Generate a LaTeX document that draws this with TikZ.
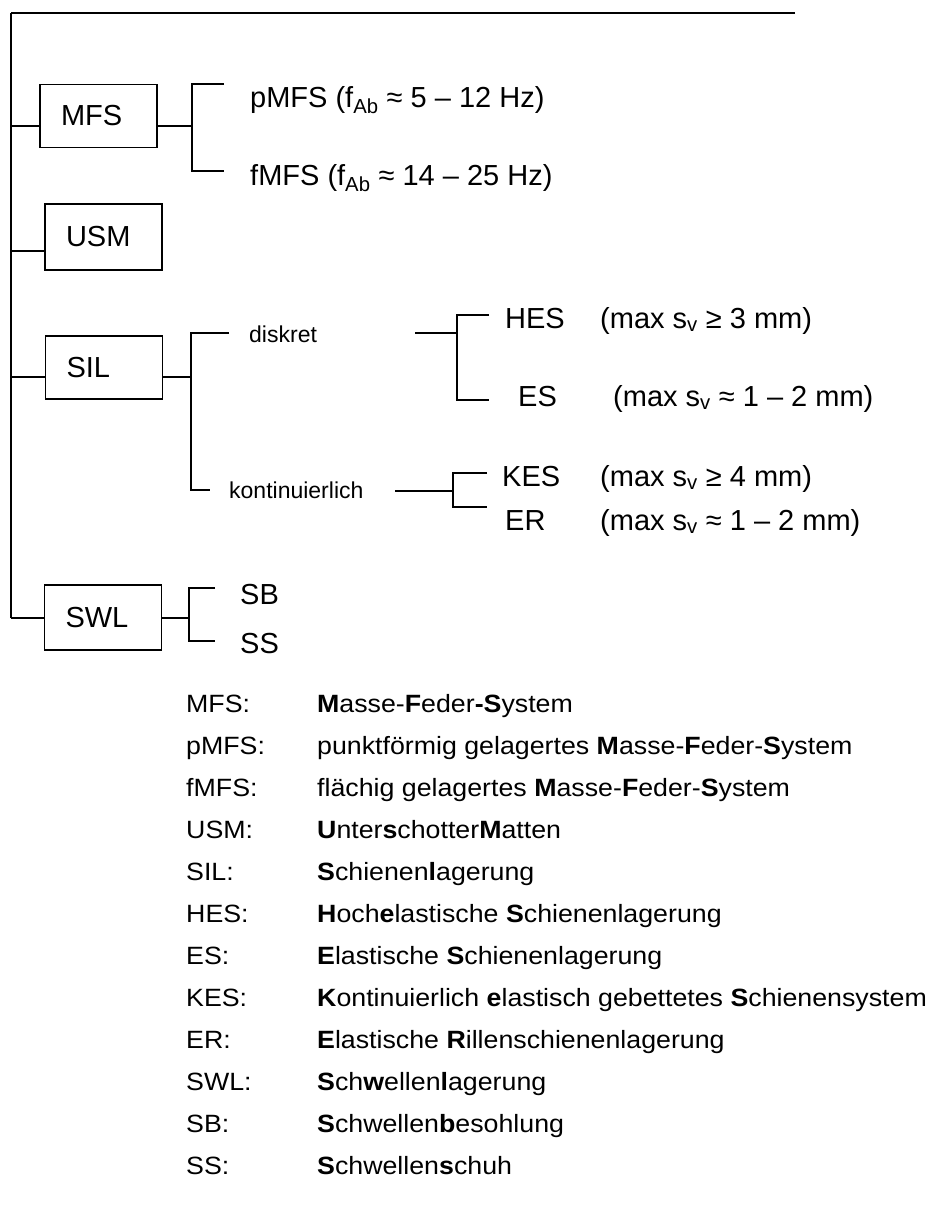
\documentclass[tikz,border=0pt]{standalone}
\usepackage{fontspec}
\setmainfont{Liberation Sans}
\newfontfamily\legfont[FakeStretch=1.07]{Liberation Sans}
\usepackage{tikz}
\usetikzlibrary{positioning}
\tikzset{
  box/.style ={rectangle, draw, line width=1.6pt, text width=75pt, inner xsep=21pt,
               minimum height=63pt, align=left, font=\fontsize{29}{34}\selectfont},
  lbl/.style ={anchor=base west, inner sep=0pt, font=\fontsize{29}{34}\selectfont},
  sml/.style ={anchor=base west, inner sep=0pt, font=\fontsize{23}{28}\selectfont},
  leg/.style ={anchor=base west, inner sep=0pt, font=\legfont\fontsize{25}{30}\selectfont},
  ln/.style  ={line width=1.6pt}
}

\begin{document}
\begin{tikzpicture}[x=1pt, y=-1pt]
  \useasboundingbox (0,0) rectangle (927,1226);
  % main line
  \coordinate (top) at (11,13);
  \coordinate (topend) at (795,13);
  \coordinate (jmfs) at (11,126);
  \coordinate (jusm) at (11,251);
  \coordinate (jsil) at (11,377);
  \coordinate (jswl) at (11,618);
  \draw[line width=2pt] (topend) -- (top);
  \draw[ln] (top) -- (jswl);

  % level 1
  \node[box] (mfs) at (98.5,116) {MFS};
  \node[box, minimum height=66pt] (usm) at (103.5,237) {USM};
  \node[box] (sil) at (104,367.5) {SIL};
  \node[box, minimum height=65pt] (swl) at (103,617.5) {SWL};
  \draw[ln] (jmfs) -- (jmfs -| mfs.west);
  \draw[ln] (jusm) -- (jusm -| usm.west);
  \draw[ln] (jsil) -- (jsil -| sil.west);
  \draw[ln] (jswl) -- (jswl -| swl.west);

  % MFS
  \coordinate (bmfs) at (192,126);
  \coordinate (tpmfs) at (224,84);
  \coordinate (tfmfs) at (224,171);
  \node[lbl] (pmfs) at (250,107) {pMFS (f\textsubscript{Ab} ≈ 5 – 12 Hz)};
  \node[lbl] (fmfs) at (250,185) {fMFS (f\textsubscript{Ab} ≈ 14 – 25 Hz)};
  \draw[ln] (mfs.east |- bmfs) -- (bmfs);
  \draw[ln] (tpmfs) -| (bmfs) |- (tfmfs);

  % SIL
  \coordinate (bsil) at (191,377);
  \coordinate (tdis) at (229,333);
  \coordinate (tkon) at (210,490);
  \node[sml] (dis) at (249,342) {diskret};
  \node[sml] (kon) at (229,498) {kontinuierlich};
  \draw[ln] (sil.east |- bsil) -- (bsil);
  \draw[ln] (tdis) -| (bsil) |- (tkon);

  % diskret
  \coordinate (ldis) at (415,333);
  \coordinate (bdis) at (457,333);
  \coordinate (thes) at (489,315);
  \coordinate (tes) at (489,400);
  \node[lbl] (hes) at (505,328) {HES};
  \node[lbl] (hesv) at (600,328) {(max s\textsubscript{v} ≥ 3 mm)};
  \node[lbl] (es) at (518,406) {ES};
  \node[lbl] (esv) at (613,406) {(max s\textsubscript{v} ≈ 1 – 2 mm)};
  \draw[ln] (ldis) -- (bdis);
  \draw[ln] (thes) -| (bdis) |- (tes);

  % kontinuierlich
  \coordinate (lkon) at (395,491);
  \coordinate (bkon) at (453,491);
  \coordinate (tkes) at (487,473);
  \coordinate (ter) at (487,507);
  \node[lbl] (kes) at (502,486) {KES};
  \node[lbl] (kesv) at (600,486) {(max s\textsubscript{v} ≥ 4 mm)};
  \node[lbl] (er) at (505,530) {ER};
  \node[lbl] (erv) at (600,530) {(max s\textsubscript{v} ≈ 1 – 2 mm)};
  \draw[ln] (lkon) -- (bkon);
  \draw[ln] (tkes) -| (bkon) |- (ter);

  % SWL
  \coordinate (bswl) at (189,618);
  \coordinate (tsb) at (215,588);
  \coordinate (tss) at (215,641);
  \node[lbl] (sb) at (240,604) {SB};
  \node[lbl] (ss) at (240,653) {SS};
  \draw[ln] (swl.east |- bswl) -- (bswl);
  \draw[ln] (tsb) -| (bswl) |- (tss);

  % legend
  \node[leg] (a1) at (186,712) {MFS:};
  \node[leg] (d1) at (317,712) {\textbf{M}asse-\textbf{F}eder\textbf{-S}ystem};
  \node[leg] (a2) at (186,754) {pMFS:};
  \node[leg] (d2) at (317,754) {punktförmig gelagertes \textbf{M}asse-\textbf{F}eder-\textbf{S}ystem};
  \node[leg] (a3) at (186,796) {fMFS:};
  \node[leg] (d3) at (317,796) {flächig gelagertes \textbf{M}asse-\textbf{F}eder-\textbf{S}ystem};
  \node[leg] (a4) at (186,838) {USM:};
  \node[leg] (d4) at (317,838) {\textbf{U}nter\textbf{s}chotter\textbf{M}atten};
  \node[leg] (a5) at (186,880) {SIL:};
  \node[leg] (d5) at (317,880) {\textbf{S}chienen\textbf{l}agerung};
  \node[leg] (a6) at (186,922) {HES:};
  \node[leg] (d6) at (317,922) {\textbf{H}och\textbf{e}lastische \textbf{S}chienenlagerung};
  \node[leg] (a7) at (186,964) {ES:};
  \node[leg] (d7) at (317,964) {\textbf{E}lastische \textbf{S}chienenlagerung};
  \node[leg] (a8) at (186,1006) {KES:};
  \node[leg] (d8) at (317,1006) {\textbf{K}ontinuierlich \textbf{e}lastisch gebettetes \textbf{S}chienensystem};
  \node[leg] (a9) at (186,1048) {ER:};
  \node[leg] (d9) at (317,1048) {\textbf{E}lastische \textbf{R}illenschienenlagerung};
  \node[leg] (a10) at (186,1090) {SWL:};
  \node[leg] (d10) at (317,1090) {\textbf{S}ch\textbf{w}ellen\textbf{l}agerung};
  \node[leg] (a11) at (186,1132) {SB:};
  \node[leg] (d11) at (317,1132) {\textbf{S}chwellen\textbf{b}esohlung};
  \node[leg] (a12) at (186,1174) {SS:};
  \node[leg] (d12) at (317,1174) {\textbf{S}chwellen\textbf{s}chuh};
\end{tikzpicture}
\end{document}
